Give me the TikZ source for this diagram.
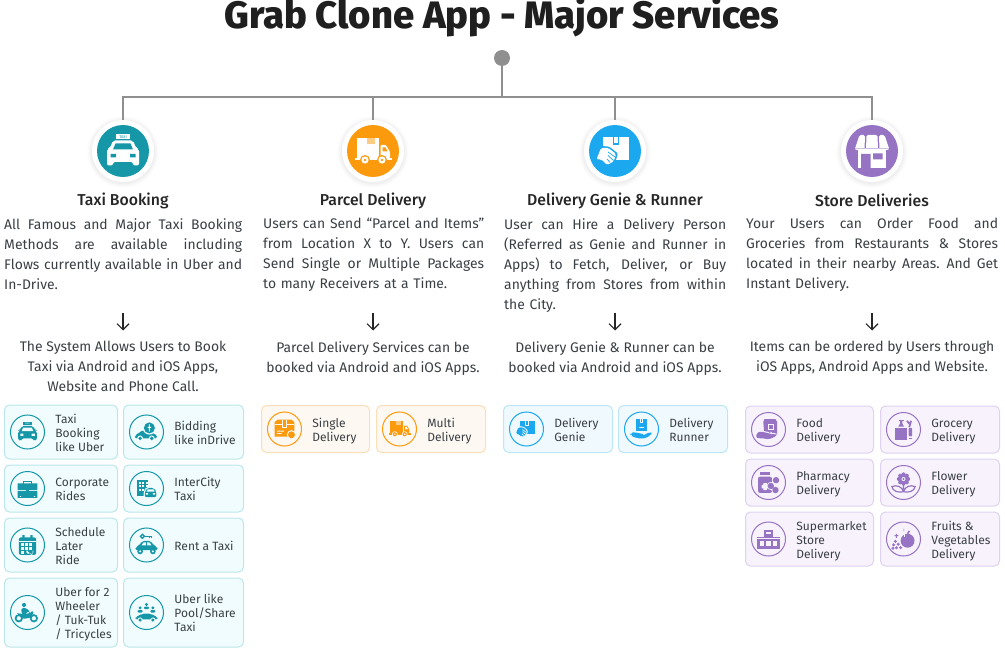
\documentclass[tikz,border=0pt]{standalone}
\usepackage{fontspec}
\setmainfont{Fira Sans}
\newfontfamily\medfont{Fira Sans Medium}
\usetikzlibrary{positioning,calc,arrows.meta}

\definecolor{linegray}{HTML}{8F8F8F}
\definecolor{inkgray}{HTML}{3A3F44}
\definecolor{tealc}{HTML}{1597A8}
\definecolor{orangec}{HTML}{FB9A0C}
\definecolor{bluec}{HTML}{1BA8EE}
\definecolor{purplec}{HTML}{9673C3}
\definecolor{tealbg}{HTML}{F0FCFE}
\definecolor{orangebg}{HTML}{FDF8F2}
\definecolor{bluebg}{HTML}{EFF9FE}
\definecolor{purplebg}{HTML}{F7F2FC}
\definecolor{tealedge}{HTML}{BCE6EA}
\definecolor{orangeedge}{HTML}{FBDFB8}
\definecolor{blueedge}{HTML}{BCE6F9}
\definecolor{purpleedge}{HTML}{DFD2F0}

% a line of body text, spread over the whole column
\newcommand{\jl}[1]{\leavevmode\hbox to \hsize{\spaceskip=.25em plus 1fil minus .08em\relax #1}}

\tikzset{
	holec/.code={\colorlet{holecol}{#1}},
	title/.style={font=\medfont\fontsize{38.2}{40}\bfseries\selectfont, text=black!88, inner sep=0pt},
	heading/.style={font=\medfont\fontsize{15.8}{18}\selectfont, text=black!85, inner sep=0pt},
	body/.style={font=\fontsize{13.9}{20}\selectfont, text=inkgray, inner sep=0pt, align=left, anchor=north west},
	note/.style={font=\fontsize{13.9}{20}\selectfont, text=inkgray, inner sep=0pt, align=center, anchor=north},
	cardtext/.style={font=\fontsize{12}{14}\selectfont, text=inkgray, inner sep=0pt, align=left, anchor=west},
	cardbox/.style={rectangle, rounded corners=5pt, line width=1pt, inner sep=0pt, anchor=west},
	tealcard/.style={cardbox, draw=tealedge, fill=tealbg},
	orangecard/.style={cardbox, draw=orangeedge, fill=orangebg},
	bluecard/.style={cardbox, draw=blueedge, fill=bluebg},
	purplecard/.style={cardbox, draw=purpleedge, fill=purplebg},
	trunk/.style={draw=linegray, line width=2pt},
	dotnode/.style={circle, fill=linegray, minimum size=16pt, inner sep=0pt},
	badge/.style={circle, fill=white, minimum size=62pt, inner sep=0pt},
	badgefill/.style={circle, fill=#1, minimum size=52pt, inner sep=0pt},
	ring/.style={circle, draw=#1, line width=1pt, minimum size=34pt, inner sep=0pt},
	downarrow/.style={-{Straight Barb[length=6pt,width=12pt]}, draw=black!85, line width=1.1pt},
	% icons, drawn in a box of about 36 by 36 around the origin
	pics/taxi/.style={code={
		\fill (-7,-16.5) rectangle (7,-11.5);
		\node[transform shape, font=\fontsize{4}{4}\selectfont, text=holecol, inner sep=0pt] (taxisign) at (0,-14) {TAXI};
		\fill[rounded corners=2pt] (-10,-10.5) -- (10,-10.5) -- (13,-3) -- (16,-2) -- (16,14.5) -- (10,14.5) -- (10,11) -- (-10,11) -- (-10,14.5) -- (-16,14.5) -- (-16,-2) -- (-13,-3) -- cycle;
		\fill[holecol] (-7.5,-7.5) -- (7.5,-7.5) -- (10,-1.5) -- (-10,-1.5) -- cycle;
		\fill[holecol] (-12.5,3) rectangle (-7,6.5) (7,3) rectangle (12.5,6.5);
	}},
	pics/truck/.style={code={
		\fill (-16,-13) rectangle (6,7);
		\fill[holecol, opacity=.5] (-6,-13) rectangle (2,-7);
		\fill[rounded corners=1pt] (7.5,-6) -- (13,-6) -- (17,1) -- (17,7) -- (7.5,7) -- cycle;
		\fill[holecol] (9.5,-3.5) -- (12.5,-3.5) -- (14.5,.5) -- (9.5,.5) -- cycle;
		\fill (-18,7.5) rectangle (19,9.5);
		\fill[holecol] (-8,9) circle (5) (9,9) circle (5);
		\fill (-8,9) circle (3.6) (9,9) circle (3.6);
		\fill[holecol] (-8,9) circle (1.4) (9,9) circle (1.4);
	}},
	pics/handbox/.style={code={
		\fill (-12,-14) rectangle (14,9);
		\fill[holecol] (-2.5,-14) rectangle (4,-6);
		\fill (-1,-14) rectangle (2.5,-7.5);
		\begin{scope}[rounded corners=1.5pt]
		\fill[holecol] (-20.5,9.5) -- (-15,-5) -- (-6,-4.5) -- (3,2.5) -- (1.5,7) -- (0,11.5) -- (-7.5,15.5) -- (-14,10) -- cycle;
		\fill (-18.5,8.5) -- (-14,-3) -- (-6.5,-3) -- (1,3) -- (0,6.5) -- (-1.5,10.5) -- (-8,14) -- (-13.5,8.5) -- cycle;
		\end{scope}
		\draw[holecol, line width=.7pt] (-7,1) -- (0,6) (-7,4.5) -- (-1.5,9.5) (-8,8) -- (-5,11.5);
	}},
	pics/store/.style={code={
		\fill (-14,-3) rectangle (14,17);
		\fill[holecol] (-11,3) rectangle (-1.5,17) (1,2.5) rectangle (10.5,8.5);
		\begin{scope}[rounded corners=1.5pt]
		\fill (-12.5,-16) -- (-7,-16) -- (-7.5,-1) -- (-17.5,-1) -- cycle;
		\fill (-5.5,-16) -- (5.5,-16) -- (6,-1) -- (-6,-1) -- cycle;
		\fill (7,-16) -- (12.5,-16) -- (17.5,-1) -- (7.5,-1) -- cycle;
		\end{scope}
		\fill[holecol, opacity=.45] (-17.5,-2.7) rectangle (17.5,-1.7);
	}},
	pics/coincar/.style={code={
		\fill[rounded corners=2pt] (-20,11) -- (-20,5) -- (-14,3) -- (-8,-3) -- (4,-3) -- (10,3) -- (18,4) -- (18,11) -- cycle;
		\fill[holecol] (-11,11) circle (5) (9,11) circle (5);
		\fill (-11,11) circle (3.4) (9,11) circle (3.4);
		\fill[holecol] (5,-7) circle (11.5);
		\fill (5,-7) circle (9.5);
		\fill[holecol] (4,-13) rectangle (6,-1) (2,-9) rectangle (8,-7);
	}},
	pics/briefcase/.style={code={
		\draw[line width=1.6pt] (-7,-8) -- (-7,-12) -- (7,-12) -- (7,-8);
		\fill (-17,-9) rectangle (17,3) (-17,4.5) rectangle (17,16);
		\fill[holecol] (-13,13) rectangle (-11,14.5) (11,13) rectangle (13,14.5);
		\fill (-3,1) rectangle (3,6.5);
	}},
	pics/citycar/.style={code={
		\fill (-16,-15) rectangle (3,13);
		\foreach \i in {-13,-7,-1} \foreach \j in {-12,-6,0} \fill[holecol] (\i,\j) rectangle +(3.5,3.5);
		\fill[holecol, rounded corners=2pt] (-5,17) -- (-5,5) -- (0,-3) -- (14,-3) -- (19,5) -- (19,17) -- cycle;
		\fill[rounded corners=2pt] (-3,15) -- (-3,6) -- (1,-1) -- (13,-1) -- (17,6) -- (17,15) -- cycle;
		\fill[holecol] (2,1.5) -- (12,1.5) -- (14,5.5) -- (0,5.5) -- cycle;
		\fill[holecol] (-1,8) rectangle (3,10.5) (11,8) rectangle (15,10.5);
	}},
	pics/calendar/.style={code={
		\fill[rounded corners=2pt] (-15,-13) rectangle (15,17);
		\fill (-9,-17) rectangle (-5,-10) (5,-17) rectangle (9,-10);
		\fill[holecol] (-15,-7) rectangle (15,-6);
		\foreach \i in {-11,-4,3} \foreach \j in {-3,4} \fill[holecol] (\i,\j) rectangle +(4.5,4.5);
		\fill[holecol] (-11,11) rectangle +(4.5,4);
		\fill[holecol] (8,18) -- (-1,9) arc (225:45:3.6) arc (135:-45:3.6) -- cycle;
		\fill (8,15.5) -- (1.5,9) arc (225:45:2.3) arc (135:-45:2.3) -- cycle;
	}},
	pics/keycar/.style={code={
		\draw[line width=1.3pt] (-7,-15) circle (3.4);
		\draw[line width=1.3pt] (-3.5,-15) -- (9,-15) (5,-15) -- (5,-12) (9,-15) -- (9,-12);
		\fill[rounded corners=2pt] (-19,9) -- (-19,3) -- (-12,1) -- (-8,-7) -- (8,-7) -- (12,1) -- (19,3) -- (19,9) -- cycle;
		\fill[holecol] (-5,-4.5) -- (-1,-4.5) -- (-1,.5) -- (-8.5,.5) -- cycle (1,-4.5) -- (5,-4.5) -- (8.5,.5) -- (1,.5) -- cycle;
		\fill (-11,11) circle (5) (11,11) circle (5);
		\fill[holecol] (-11,11) circle (2) (11,11) circle (2);
	}},
	pics/moto/.style={code={
		\fill (-6,-13) circle (3.5);
		\fill[rounded corners=1.5pt] (-10,-8) -- (-3,-8) -- (5,-1) -- (2,1) -- (-2,-2) -- (-2,4) -- (-8,4) -- (-11,-1) -- cycle;
		\draw[line width=1.7pt] (-15,10) circle (5.5) (11,10) circle (5.5);
		\fill[rounded corners=1pt] (-19,1) -- (-6,3) -- (4,1) -- (9,-3) -- (11,0) -- (5,9) -- (-7,11) -- cycle;
	}},
	pics/poolcar/.style={code={
		\foreach \i/\j in {-11/-8,0/-14,11/-8} {
			\fill (\i,\j) circle (2.8);
			\fill[rounded corners=1pt] (\i-4.5,\j+8) -- (\i-4.5,\j+4) -- (\i+4.5,\j+4) -- (\i+4.5,\j+8) -- cycle;
		}
		\fill[rounded corners=2pt] (-19,12) -- (-19,7) -- (-12,5.5) -- (-8,2) -- (8,2) -- (12,5.5) -- (19,7) -- (19,12) -- cycle;
		\fill[holecol] (-11,13) circle (4.5) (11,13) circle (4.5);
		\fill (-11,13) circle (3) (11,13) circle (3);
	}},
	pics/parcel/.style={code={
		\fill (-17,-12) -- (-12,-16) -- (12,-16) -- (17,-12) -- (17,13) -- (-17,13) -- cycle;
		\fill[holecol] (-17,-8) rectangle (17,-6.5);
		\fill[holecol] (-4,-16) rectangle (4,-2);
		\fill (-2.5,-16) rectangle (2.5,-3.5);
		\fill[holecol] (-13,3) rectangle (-1,4.5) (-13,7) rectangle (-5,8.5);
		\fill[holecol] (12,10) circle (8);
		\fill (12,10) circle (6);
	}},
	pics/handparcel/.style={code={
		\fill (-9,-17) rectangle (9,3);
		\fill[holecol] (-3,-17) rectangle (3,-10);
		\fill (-1.5,-17) rectangle (1.5,-11.5);
		\fill[holecol] (-5,-3) rectangle (5,-1);
		\fill[rounded corners=2pt] (-19,7) -- (-11,5) -- (-4,8) -- (3,8) -- (3,11) -- (-3,11) -- (4,11) -- (14,5) -- (19,7) -- (8,16) -- (-8,16) -- (-19,11) -- cycle;
	}},
	pics/foodbag/.style={code={
		\fill (-7,-18) -- (12,-18) -- (15,-13) -- (15,9) -- (-7,9) -- (-9,-13) -- cycle;
		\fill[holecol] (-1,-9) rectangle (9,1);
		\fill (1,-7) rectangle (7,-1);
		\fill[holecol, rounded corners=2pt] (-23,4) -- (-12,1) -- (-5,4) -- (3,4) -- (4,7) -- (12,5) -- (17,10) -- (2,19) -- (-12,17) -- (-23,17) -- cycle;
		\fill[rounded corners=2pt] (-21,6) -- (-12,3) -- (-5,6) -- (2,6) -- (2,9) -- (12,7) -- (15,10) -- (2,17) -- (-12,15) -- (-21,15) -- cycle;
	}},
	pics/grocery/.style={code={
		\fill (-14,-3) -- (6,-3) -- (6,18) -- (-14,18) -- cycle;
		\fill (-9,-5) -- (1,-5) -- (-2,-10) -- (-2,-15) -- (-6,-15) -- (-6,-10) -- cycle;
		\fill (-8,-17) rectangle (0,-15);
		\draw[line width=1.8pt] (10,-4) -- (13,-15) (10,-10) -- (6,-15);
		\fill[rounded corners=1pt] (9,-3) rectangle (15,12);
		\fill (9,14) rectangle (15,17);
	}},
	pics/pharmacy/.style={code={
		\fill (-14,-18) rectangle (2,-13);
		\fill[rounded corners=2pt] (-18,-10) rectangle (6,18);
		\fill[holecol] (-9,1) rectangle (-3,13) (-12,4) rectangle (0,10);
		\fill[holecol] (13,-4) circle (7) (4,6) circle (7) (12,13) circle (7);
		\fill (13,-4) circle (5.5) (4,6) circle (5.5) (12,13) circle (5.5);
	}},
	pics/flower/.style={code={
		\foreach \a in {0,45,...,315} \fill (\a:8) ++(0,-6) circle (3.5);
		\fill (0,-6) circle (8.5);
		\fill[holecol] (0,-6) circle (3.5);
		\fill (0,-6) circle (1.8);
		\draw[line width=1.2pt] (0,4) -- (0,16) (0,16) .. controls (-3,6) and (-12,4) .. (-20,7) .. controls (-19,15) and (-9,18) .. (0,16) .. controls (9,18) and (19,15) .. (20,7) .. controls (12,4) and (3,6) .. (0,16);
	}},
	pics/market/.style={code={
		\fill (-8,-16) rectangle (8,-3);
		\fill (-19,-3) rectangle (19,17);
		\fill[holecol] (-4,-12) rectangle (4,-9);
		\fill[holecol] (-19,-1) rectangle (19,.5);
		\foreach \i in {-15,-4,7} \fill[holecol] (\i,4) rectangle +(8,8);
	}},
	pics/fruit/.style={code={
		\fill (7,3) circle (12);
		\draw[line width=1.6pt] (7,-9) -- (10,-14);
		\fill[holecol] (1,-8) rectangle (3,-4);
		\foreach \i/\j in {-14/4,-9/9,-17/10,-12/15,-5/15,-18/16} \fill (\i,\j) circle (2.8);
		\fill (-13,-9) rectangle (-11.5,-2) (-15.5,-6.5) rectangle (-9,-5) (0,-18) rectangle (1.2,-13);
	}}
}

% \card{style}{name}{west point}{width}{height}{icon}{text}
\newcommand{\card}[7]{
	\node[#1card, minimum width=#4pt, minimum height=#5pt] (#2) at (#3) {};
	\node[ring=#1c] (#2-icon) at ($(#2.west)+(23.5,0)$) {};
	\pic[fill=#1c, draw=#1c, line width=0pt, holec=#1bg, scale=.58] at (#2-icon) {#6};
	\node[cardtext] (#2-text) at ($(#2.west)+(51.2,2.5)$) {\strut #7\strut};
}
% \topic{name}{x}{colour}{icon}{heading}
\newcommand{\topic}[5]{
	\foreach \r/\o in {36/.008,35/.01,34/.012,33/.014,32/.016} \fill[black, opacity=\o] (#2,152) circle (\r);
	\node[badge] (#1-ring) at (#2,151) {};
	\node[badgefill=#3] (#1-disc) at (#2,151) {};
	\pic[fill=white, draw=white, line width=0pt, holec=#3] at (#1-disc) {#4};
	\node[heading] (#1-head) at (#2,200.5) {#5};
	\coordinate (#1-top) at (#2,97);
	\draw[trunk] (#1-top) -- (#1-ring);
}

\begin{document}
\begin{tikzpicture}[x=1pt, y=-1pt]
\useasboundingbox (0,0) rectangle (1005,650);

\node[title] (heading) at (502,17) {Grab Clone App - Major Services};
\node[dotnode] (rootdot) at (502,58) {};
\coordinate (bar) at (502,97);
\coordinate (barleft) at (122,97);
\coordinate (barright) at (873,97);
\draw[trunk] (rootdot) -- (bar);
\draw[trunk] (barleft) -- (barright);

\topic{taxi}{123}{tealc}{taxi}{Taxi Booking}
\topic{parcel}{373}{orangec}{truck}{Parcel Delivery}
\topic{genie}{615}{bluec}{handbox}{Delivery Genie \& Runner}
\topic{store}{872}{purplec}{store}{Store Deliveries}

\node[body, text width=238pt] (taxi-body) at (4,218) {\jl{All Famous and Major Taxi Booking}\\\jl{Methods are available including}\\\jl{Flows currently available in Uber and}\\In-Drive.};
\node[body, text width=221pt] (parcel-body) at (263,218) {\jl{Users can Send “Parcel and Items”}\\\jl{from Location X to Y. Users can}\\\jl{Send Single or Multiple Packages}\\to many Receivers at a Time.};
\node[body, text width=222pt] (genie-body) at (504,218) {\jl{User can Hire a Delivery Person}\\\jl{(Referred as Genie and Runner in}\\\jl{Apps) to Fetch, Deliver, or Buy}\\\jl{anything from Stores from within}\\the City.};
\node[body, text width=252pt] (store-body) at (746,218) {\jl{Your Users can Order Food and}\\\jl{Groceries from Restaurants \& Stores}\\\jl{located in their nearby Areas. And Get}\\Instant Delivery.};

\foreach \n/\x in {taxi/123,parcel/373,genie/615,store/872} {
	\coordinate (\n-from) at (\x,313);
	\coordinate (\n-to) at (\x,330.5);
	\draw[downarrow] (\n-from) -- (\n-to);
}

\node[note] (taxi-note) at (123,341) {The System Allows Users to Book\\Taxi via Android and iOS Apps,\\Website and Phone Call.};
\node[note] (parcel-note) at (373,341) {Parcel Delivery Services can be\\booked via Android and iOS Apps.};
\node[note] (genie-note) at (615,341) {Delivery Genie \& Runner can be\\booked via Android and iOS Apps.};
\node[note] (store-note) at (872,341) {Items can be ordered by Users through\\iOS Apps, Android Apps and Website.};

\card{teal}{uber}{4,432}{113}{54}{taxi}{Taxi\\Booking\\like Uber}
\card{teal}{bidding}{123,432}{120}{54}{coincar}{Bidding\\like inDrive}
\card{teal}{corporate}{4,488.5}{113}{47}{briefcase}{Corporate\\Rides}
\card{teal}{intercity}{123,488.5}{120}{47}{citycar}{InterCity\\Taxi}
\card{teal}{schedule}{4,545}{113}{54}{calendar}{Schedule\\Later\\Ride}
\card{teal}{rent}{123,545}{120}{54}{keycar}{Rent a Taxi}
\card{teal}{wheeler}{4,612.5}{113}{69}{moto}{Uber for 2\\Wheeler\\/ Tuk-Tuk\\/ Tricycles}
\card{teal}{pool}{123,612.5}{120}{69}{poolcar}{Uber like\\Pool/Share\\Taxi}

\card{orange}{single}{261,429}{108}{47}{parcel}{Single\\Delivery}
\card{orange}{multi}{376,429}{109}{47}{truck}{Multi\\Delivery}

\card{blue}{dgenie}{503,429}{109}{47}{handbox}{Delivery\\Genie}
\card{blue}{drunner}{618,429}{109}{47}{handparcel}{Delivery\\Runner}

\card{purple}{food}{745,429.5}{128}{47}{foodbag}{Food\\Delivery}
\card{purple}{grocery}{880,429.5}{119}{47}{grocery}{Grocery\\Delivery}
\card{purple}{pharmacy}{745,482.5}{128}{47}{pharmacy}{Pharmacy\\Delivery}
\card{purple}{flower}{880,482.5}{119}{47}{flower}{Flower\\Delivery}
\card{purple}{supermarket}{745,539}{128}{54}{market}{Supermarket\\Store\\Delivery}
\card{purple}{fruits}{880,539}{119}{54}{fruit}{Fruits \&\\Vegetables\\Delivery}
\end{tikzpicture}
\end{document}
